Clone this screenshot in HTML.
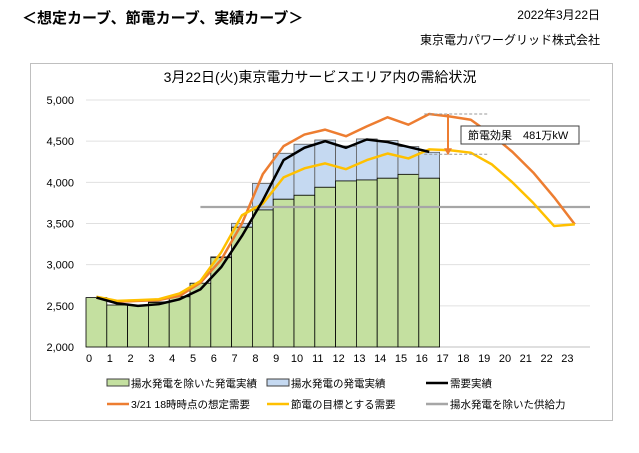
<!DOCTYPE html>
<html><head><meta charset="utf-8"><style>
body{margin:0;width:639px;height:448px;background:#fff;overflow:hidden;font-family:"Liberation Sans","Noto Sans CJK JP",sans-serif;}
svg text{font-family:"Liberation Sans","Noto Sans CJK JP",sans-serif;}
</style></head><body>
<svg id="c" width="639" height="448">
<text x="22" y="23" font-size="15" font-weight="bold" fill="#000">＜想定カーブ、節電カーブ、実績カーブ＞</text>
<text x="600" y="19" font-size="12" text-anchor="end">2022年3月22日</text>
<text x="600" y="44" font-size="12" text-anchor="end">東京電力パワーグリッド株式会社</text>
<rect x="30.5" y="63.5" width="582" height="357" fill="none" stroke="#bfbfbf"/>
<text x="320" y="82" font-size="14" text-anchor="middle">3月22日(火)東京電力サービスエリア内の需給状況</text>
<g id="grid"></g><g id="bars"></g><g id="lines"></g><g id="ann"></g><g id="legend"></g>
</svg>
<script>
const hours=[0,1,2,3,4,5,6,7,8,9,10,11,12,13,14,15,16,17,18,19,20,21,22,23];
const yTicks=[2000,2500,3000,3500,4000,4500,5000];
const greenBars=[2600,2510,2505,2540,2610,2775,3085,3455,3665,3795,3843,3940,4017,4029,4050,4097,4050];
const totalBars=[2600,2510,2505,2550,2617,2775,3097,3502,3986,4353,4463,4514,4441,4527,4507,4434,4365];
const actualDemand=[2600,2530,2500,2520,2580,2700,2970,3350,3780,4270,4420,4500,4420,4520,4490,4430,4370];
const forecastDemand=[2600,2550,2560,2570,2620,2780,3060,3500,4100,4440,4580,4640,4560,4680,4790,4700,4830,4800,4760,4580,4370,4120,3820,3490];
const targetDemand=[2610,2560,2570,2580,2650,2800,3150,3600,3740,4060,4170,4230,4160,4270,4350,4290,4400,4390,4360,4220,4000,3750,3470,3490];
const supply=3700;
const savingLabel="節電効果　481万kW";
const NS="http://www.w3.org/2000/svg";
const X0=86,BW=20.8,Y0=347,K=247/3000;
const y=v=>Y0-(v-2000)*K;
const xl=i=>X0+BW*i;
const xc=i=>X0+BW*(i+0.5);
function mk(tag,at,parent,txt){const e=document.createElementNS(NS,tag);for(const k in at)e.setAttribute(k,at[k]);if(txt!=null)e.textContent=txt;document.getElementById(parent).appendChild(e);return e;}
yTicks.forEach(t=>{
 const l=mk('line',{x1:X0,x2:590,y1:y(t),y2:y(t),stroke:t==2000?'#bfbfbf':'#e0e0e0'},'grid');
 
 
 const tx=mk('text',{x:74,y:y(t)+4,'font-size':11,'text-anchor':'end'},'grid',t.toLocaleString('en-US'));
 
 
});
hours.forEach(h=>{
 const tx=mk('text',{x:xl(h)+3,y:362,'font-size':11,'text-anchor':'middle'},'grid',String(h));
 
 
});
totalBars.forEach((v,i)=>{
 const b=mk('rect',{x:xl(i),y:y(v),width:BW,height:y(greenBars[i])-y(v),fill:'#c5d9f1',stroke:'#595959','stroke-width':0.8},'bars');
 
 
 const g=mk('rect',{x:xl(i),y:y(greenBars[i]),width:BW,height:Y0-y(greenBars[i]),fill:'#c4e0a0',stroke:'#000','stroke-width':0.8},'bars');
 
 
});
const sp=mk('line',{x1:xc(5),x2:590,y1:y(supply),y2:y(supply),stroke:'#a6a6a6','stroke-width':2.2},'lines');


function poly(arr,col,w,name){const p=mk('polyline',{points:arr.map((v,i)=>xc(i)+','+y(v)).join(' '),fill:'none',stroke:col,'stroke-width':w,'stroke-linejoin':'round'},'lines');}
poly(forecastDemand,'#ed7d31',2.5,'forecast-demand-line');
poly(targetDemand,'#ffc000',2.5,'target-demand-line');
poly(actualDemand,'#000',2.5,'actual-demand-line');
// annotation
const ax=xc(17)-2;
const d1=mk('line',{x1:xc(16)-5,x2:489,y1:y(forecastDemand[16]),y2:y(forecastDemand[16]),stroke:'#999','stroke-dasharray':'3,2'},'ann');

const d2=mk('line',{x1:xc(16)-5,x2:489,y1:y(targetDemand[17])+4,y2:y(targetDemand[17])+4,stroke:'#999','stroke-dasharray':'3,2'},'ann');

const ar=mk('line',{x1:ax,x2:ax,y1:y(forecastDemand[16]),y2:y(targetDemand[17])+4,stroke:'#ed7d31','stroke-width':2},'ann');

const ah=mk('polygon',{points:`${ax-4},${y(targetDemand[17])-2} ${ax+4},${y(targetDemand[17])-2} ${ax},${y(targetDemand[17])+5}`,fill:'#ed7d31'},'ann');

const bx=mk('rect',{x:461,y:126,width:118,height:18,fill:'#fff',stroke:'#404040'},'ann');

const bt=mk('text',{x:468,y:139,'font-size':11},'ann',savingLabel);

// legend
const leg=[
 {x:107,y:383,t:'揚水発電を除いた発電実績',box:'#c4e0a0',bs:'#404040'},
 {x:267,y:383,t:'揚水発電の発電実績',box:'#c5d9f1',bs:'#404040'},
 {x:426,y:383,t:'需要実績',line:'#000'},
 {x:107,y:404,t:'3/21 18時時点の想定需要',line:'#ed7d31'},
 {x:267,y:404,t:'節電の目標とする需要',line:'#ffc000'},
 {x:426,y:404,t:'揚水発電を除いた供給力',line:'#a6a6a6'}];
leg.forEach(o=>{
 let m;
 if(o.box){m=mk('rect',{x:o.x,y:o.y-4,width:22,height:7,fill:o.box,stroke:o.bs,'stroke-width':1},'legend');}
 else{m=mk('line',{x1:o.x,x2:o.x+22,y1:o.y,y2:o.y,stroke:o.line,'stroke-width':2.5},'legend');}
 
 
 const t=mk('text',{x:o.x+24,y:o.y+4,'font-size':10.5},'legend',o.t);
 
 
});
</script>
</body></html>
